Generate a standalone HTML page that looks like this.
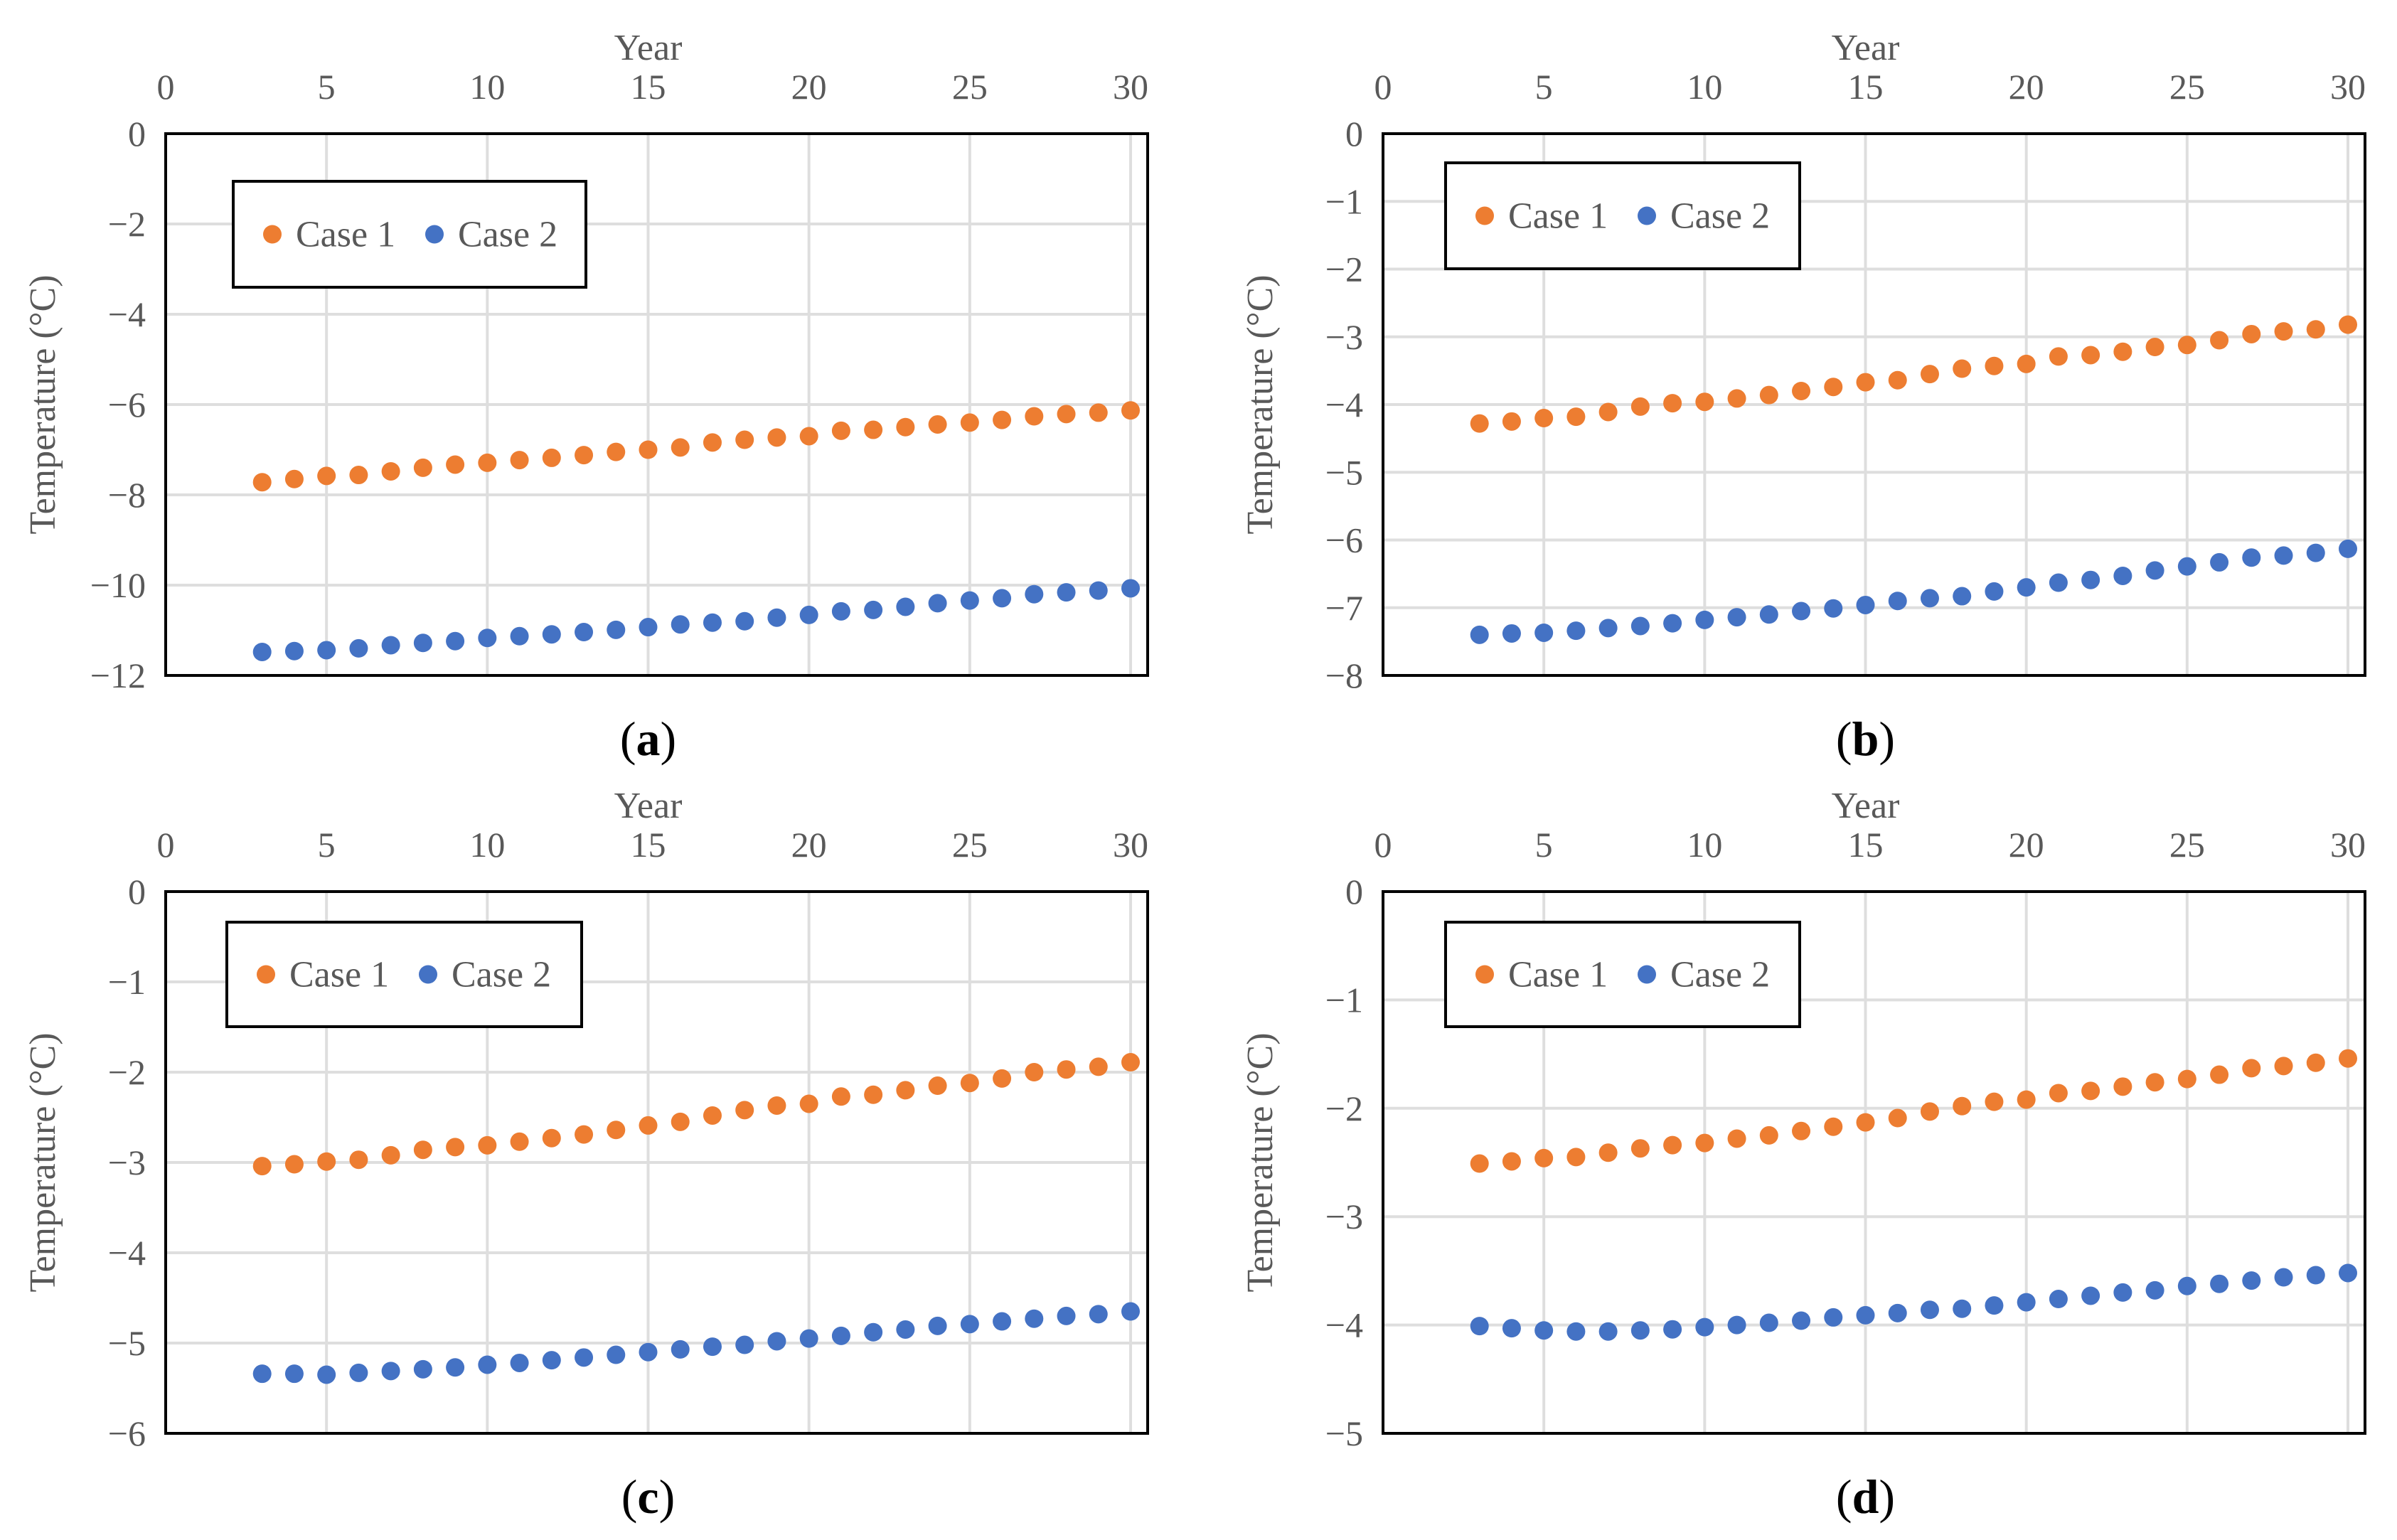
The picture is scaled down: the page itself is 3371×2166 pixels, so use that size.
<!DOCTYPE html>
<html><head><meta charset="utf-8"><style>
html,body{margin:0;padding:0;background:#fff;}
svg{display:block;font-family:"Liberation Serif",serif;}
</style></head><body>
<svg id="fig" width="3371" height="2166" viewBox="0 0 3371 2166"></svg>
<script>
const years=[3,4,5,6,7,8,9,10,11,12,13,14,15,16,17,18,19,20,21,22,23,24,25,26,27,28,29,30];
const xTicks=[0,5,10,15,20,25,30];
const aCase1=[-7.72,-7.65,-7.58,-7.56,-7.48,-7.40,-7.33,-7.29,-7.23,-7.18,-7.12,-7.05,-7.00,-6.95,-6.84,-6.78,-6.73,-6.70,-6.58,-6.56,-6.50,-6.44,-6.40,-6.34,-6.26,-6.21,-6.18,-6.13];
const aCase2=[-11.48,-11.46,-11.44,-11.40,-11.33,-11.28,-11.24,-11.17,-11.13,-11.09,-11.04,-10.99,-10.93,-10.87,-10.83,-10.80,-10.72,-10.66,-10.58,-10.55,-10.48,-10.40,-10.34,-10.29,-10.20,-10.16,-10.12,-10.07];
const aTicks=[0,-2,-4,-6,-8,-10,-12];
const bCase1=[-4.28,-4.25,-4.20,-4.18,-4.11,-4.03,-3.98,-3.96,-3.91,-3.86,-3.80,-3.74,-3.67,-3.64,-3.55,-3.47,-3.43,-3.40,-3.29,-3.27,-3.22,-3.15,-3.12,-3.05,-2.96,-2.92,-2.89,-2.82];
const bCase2=[-7.40,-7.38,-7.37,-7.34,-7.30,-7.27,-7.23,-7.18,-7.14,-7.10,-7.05,-7.01,-6.96,-6.90,-6.86,-6.83,-6.76,-6.70,-6.63,-6.59,-6.53,-6.45,-6.39,-6.33,-6.26,-6.23,-6.19,-6.13];
const bTicks=[0,-1,-2,-3,-4,-5,-6,-7,-8];
const cCase1=[-3.04,-3.02,-2.99,-2.97,-2.92,-2.86,-2.83,-2.81,-2.77,-2.73,-2.69,-2.64,-2.59,-2.55,-2.48,-2.42,-2.37,-2.35,-2.27,-2.25,-2.20,-2.15,-2.12,-2.07,-2.00,-1.97,-1.94,-1.89];
const cCase2=[-5.34,-5.34,-5.35,-5.33,-5.31,-5.29,-5.27,-5.24,-5.22,-5.19,-5.16,-5.13,-5.10,-5.07,-5.04,-5.02,-4.98,-4.95,-4.92,-4.88,-4.85,-4.81,-4.79,-4.76,-4.73,-4.70,-4.68,-4.65];
const cTicks=[0,-1,-2,-3,-4,-5,-6];
const dCase1=[-2.51,-2.49,-2.46,-2.45,-2.41,-2.37,-2.34,-2.32,-2.28,-2.25,-2.21,-2.17,-2.13,-2.09,-2.03,-1.98,-1.94,-1.92,-1.86,-1.84,-1.80,-1.76,-1.73,-1.69,-1.63,-1.61,-1.58,-1.54];
const dCase2=[-4.01,-4.03,-4.05,-4.06,-4.06,-4.05,-4.04,-4.02,-4.00,-3.98,-3.96,-3.93,-3.91,-3.89,-3.86,-3.85,-3.82,-3.79,-3.76,-3.73,-3.70,-3.68,-3.64,-3.62,-3.59,-3.56,-3.54,-3.52];
const dTicks=[0,-1,-2,-3,-4,-5];

const NS="http://www.w3.org/2000/svg";
const svg=document.getElementById('fig');
function mk(tag,attrs,parent,text){const e=document.createElementNS(NS,tag);for(const k in attrs)e.setAttribute(k,attrs[k]);if(text!==undefined)e.textContent=text;parent.appendChild(e);return e;}

const panels=[
 {id:'a',L:233,R:1614,T:188,B:950,c1:aCase1,c2:aCase2,ticks:aTicks,leg:[328,255,824,404]},
 {id:'b',L:1945,R:3326,T:188,B:950,c1:bCase1,c2:bCase2,ticks:bTicks,leg:[2033,229,2531,378]},
 {id:'c',L:233,R:1614,T:1254,B:2016,c1:cCase1,c2:cCase2,ticks:cTicks,leg:[319,1297,818,1444]},
 {id:'d',L:1945,R:3326,T:1254,B:2016,c1:dCase1,c2:dCase2,ticks:dTicks,leg:[2033,1297,2531,1444]}
];
panels.forEach(p=>{
 const g=mk('g',{},svg);
 
 
 const xf=v=>p.L+v*(1357/30);
 const mid=p.L+1357/2;
 const ymin=p.ticks[p.ticks.length-1];
 const yf=v=>p.T+(v/ymin)*(p.B-p.T);
 xTicks.forEach(t=>{const l=mk('line',{x1:xf(t),x2:xf(t),y1:p.T,y2:p.B,stroke:'#dedede','stroke-width':4},g);
  
  const tx=mk('text',{x:xf(t),y:p.T-49,'text-anchor':'middle','font-size':50,fill:'#595959'},g,String(t));
  });
 p.ticks.forEach(t=>{const l=mk('line',{x1:p.L,x2:p.R,y1:yf(t),y2:yf(t),stroke:'#dedede','stroke-width':4},g);
  
  const tx=mk('text',{x:p.L-28,y:yf(t)+17,'text-anchor':'end','font-size':50,fill:'#595959'},g,t<0?'\u2212'+Math.abs(t):String(t));
  });
 const box=mk('rect',{x:p.L,y:p.T,width:p.R-p.L,height:p.B-p.T,fill:'none',stroke:'#000','stroke-width':4},g);
 
 const xt=mk('text',{x:mid,y:p.T-104,'text-anchor':'middle','font-size':52,fill:'#595959'},g,'Year');
 
 const ym=(p.T+p.B)/2, yx=p.L-156;
 const yt=mk('text',{x:yx,y:ym,'text-anchor':'middle','font-size':52,fill:'#595959',transform:'rotate(-90 '+yx+' '+ym+')'},g,'Temperature (°C)');
 
 [[p.c1,'#ED7D31','case-1'],[p.c2,'#4472C4','case-2']].forEach(([arr,col,nm])=>{
  arr.forEach((v,i)=>{const c=mk('circle',{cx:xf(years[i]),cy:yf(v),r:13,fill:col},g);
   });
 });
 const [lx1,ly1,lx2,ly2]=p.leg;
 const lg=mk('g',{},g);
 
 mk('rect',{x:lx1,y:ly1,width:lx2-lx1,height:ly2-ly1,fill:'#fff',stroke:'#000','stroke-width':4},lg);
 const cy=(ly1+ly2)/2;
 const e1=mk('circle',{cx:lx1+55,cy:cy,r:13,fill:'#ED7D31'},lg);
 
 const t1=mk('text',{x:lx1+88,y:cy+17,'font-size':52,fill:'#595959'},lg,'Case 1');
 
 const e2=mk('circle',{cx:lx1+283,cy:cy,r:13,fill:'#4472C4'},lg);
 
 const t2=mk('text',{x:lx1+316,y:cy+17,'font-size':52,fill:'#595959'},lg,'Case 2');
 
 const cap=mk('text',{x:mid,y:p.B+112,'text-anchor':'middle','font-size':68,fill:'#000'},g);
 
 mk('tspan',{},cap,'(');mk('tspan',{'font-weight':'bold'},cap,p.id);mk('tspan',{},cap,')');
});
</script>
</body></html>
